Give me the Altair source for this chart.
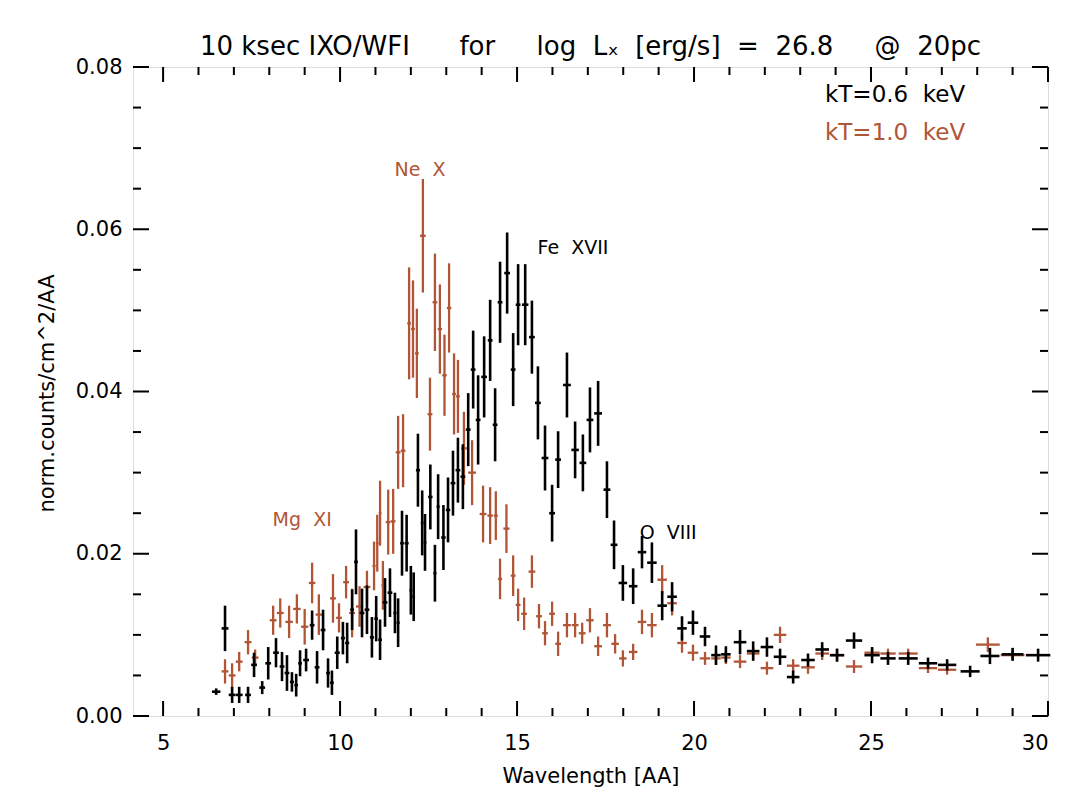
import altair as alt
import numpy as np
import pandas as pd

W, H = 915, 649
X_DOMAIN = [4.15, 30.0]
Y_DOMAIN = [0.0, 0.08]
BROWN = "#b05535"
FONT = "DejaVu Sans"
NB = "\u00a0"

# kT = 0.6 keV (black)
WL_06 = [6.50, 6.75, 6.95, 7.15, 7.40, 7.57, 7.80, 7.97, 8.19, 8.36,
         8.50, 8.64, 8.76, 8.87, 9.04, 9.21, 9.35, 9.52, 9.66, 9.77,
         9.92, 10.08, 10.20, 10.34, 10.45, 10.62, 10.76, 10.90, 11.02, 11.13,
         11.27, 11.41, 11.55, 11.64, 11.75, 11.88, 12.00, 12.08, 12.20, 12.32,
         12.40, 12.55, 12.68, 12.77, 12.92, 13.05, 13.19, 13.33, 13.47, 13.62,
         13.76, 13.90, 14.07, 14.24, 14.38, 14.52, 14.72, 14.89, 15.03, 15.23,
         15.42, 15.59, 15.79, 15.99, 16.16, 16.41, 16.64, 16.86, 17.06, 17.29,
         17.54, 17.74, 17.99, 18.28, 18.53, 18.81, 19.10, 19.38, 19.66, 19.97,
         20.31, 20.62, 20.90, 21.30, 21.67, 22.06, 22.43, 22.80, 23.22, 23.62,
         24.04, 24.52, 25.03, 25.48, 26.05, 26.61, 27.15, 27.80, 28.36, 29.00,
         29.72]
FLUX_06 = [0.0030, 0.0108, 0.0026, 0.0026, 0.0026, 0.0063, 0.0035, 0.0065, 0.0078, 0.0061,
           0.0053, 0.0042, 0.0038, 0.0065, 0.0069, 0.0112, 0.0060, 0.0106, 0.0053, 0.0041,
           0.0078, 0.0096, 0.0090, 0.0131, 0.0190, 0.0127, 0.0131, 0.0097, 0.0120, 0.0094,
           0.0140, 0.0152, 0.0127, 0.0115, 0.0213, 0.0213, 0.0155, 0.0147, 0.0303, 0.0238,
           0.0214, 0.0270, 0.0176, 0.0258, 0.0220, 0.0254, 0.0287, 0.0303, 0.0295, 0.0353,
           0.0427, 0.0365, 0.0418, 0.0463, 0.0359, 0.0510, 0.0546, 0.0427, 0.0507, 0.0507,
           0.0467, 0.0386, 0.0318, 0.0250, 0.0316, 0.0408, 0.0328, 0.0312, 0.0365, 0.0373,
           0.0279, 0.0211, 0.0164, 0.0160, 0.0202, 0.0189, 0.0136, 0.0147, 0.0108, 0.0115,
           0.0098, 0.0075, 0.0076, 0.0091, 0.0080, 0.0085, 0.0073, 0.0048, 0.0069, 0.0082,
           0.0075, 0.0093, 0.0075, 0.0071, 0.0071, 0.0065, 0.0063, 0.0055, 0.0074, 0.0076,
           0.0075]
ERR_06 = [0.0004, 0.0028, 0.0010, 0.0010, 0.0010, 0.0015, 0.0008, 0.0020, 0.0018, 0.0018,
          0.0022, 0.0012, 0.0014, 0.0016, 0.0014, 0.0018, 0.0020, 0.0025, 0.0018, 0.0015,
          0.0020, 0.0020, 0.0025, 0.0025, 0.0040, 0.0030, 0.0030, 0.0025, 0.0028, 0.0025,
          0.0030, 0.0030, 0.0025, 0.0030, 0.0040, 0.0035, 0.0030, 0.0030, 0.0045, 0.0040,
          0.0035, 0.0040, 0.0035, 0.0040, 0.0040, 0.0040, 0.0040, 0.0040, 0.0040, 0.0045,
          0.0048, 0.0055, 0.0050, 0.0050, 0.0045, 0.0050, 0.0050, 0.0045, 0.0050, 0.0050,
          0.0045, 0.0045, 0.0040, 0.0035, 0.0035, 0.0040, 0.0035, 0.0035, 0.0040, 0.0040,
          0.0035, 0.0030, 0.0022, 0.0022, 0.0020, 0.0025, 0.0018, 0.0018, 0.0015, 0.0015,
          0.0012, 0.0012, 0.0010, 0.0015, 0.0012, 0.0012, 0.0010, 0.0008, 0.0008, 0.0009,
          0.0008, 0.0010, 0.0010, 0.0008, 0.0008, 0.0007, 0.0007, 0.0007, 0.0010, 0.0008,
          0.0008]

# kT = 1.0 keV (brown)
WL_10 = [6.75, 6.95, 7.15, 7.40, 7.60, 8.11, 8.31, 8.56, 8.78, 9.00,
         9.21, 9.40, 9.80, 9.97, 10.17, 10.34, 10.55, 10.76, 10.96, 11.05,
         11.13, 11.21, 11.36, 11.50, 11.64, 11.78, 11.95, 12.06, 12.17, 12.34,
         12.54, 12.68, 12.82, 12.95, 13.08, 13.22, 13.33, 13.50, 13.73, 14.04,
         14.24, 14.40, 14.52, 14.70, 14.89, 15.03, 15.20, 15.42, 15.62, 15.79,
         15.99, 16.16, 16.41, 16.64, 16.84, 17.06, 17.29, 17.54, 17.77, 17.99,
         18.28, 18.53, 18.81, 19.10, 19.38, 19.66, 19.97, 20.31, 20.62, 20.90,
         21.30, 21.67, 22.06, 22.43, 22.80, 23.22, 23.62, 24.04, 24.52, 25.03,
         25.48, 26.05, 26.61, 27.15, 28.30, 29.00]
FLUX_10 = [0.0055, 0.0050, 0.0067, 0.0091, 0.0072, 0.0118, 0.0127, 0.0116, 0.0132, 0.0110,
           0.0164, 0.0125, 0.0145, 0.0121, 0.0165, 0.0127, 0.0135, 0.0159, 0.0185, 0.0213,
           0.0250, 0.0161, 0.0239, 0.0240, 0.0325, 0.0327, 0.0484, 0.0477, 0.0447, 0.0592,
           0.0372, 0.0510, 0.0477, 0.0420, 0.0503, 0.0397, 0.0394, 0.0330, 0.0300, 0.0249,
           0.0247, 0.0247, 0.0169, 0.0231, 0.0173, 0.0137, 0.0126, 0.0178, 0.0123, 0.0102,
           0.0126, 0.0089, 0.0112, 0.0112, 0.0102, 0.0118, 0.0086, 0.0112, 0.0089, 0.0071,
           0.0079, 0.0116, 0.0112, 0.0168, 0.0139, 0.0090, 0.0078, 0.0071, 0.0071, 0.0072,
           0.0067, 0.0077, 0.0059, 0.0100, 0.0062, 0.0060, 0.0077, 0.0075, 0.0061, 0.0078,
           0.0077, 0.0077, 0.0059, 0.0057, 0.0088, 0.0075]
ERR_10 = [0.0015, 0.0015, 0.0012, 0.0015, 0.0010, 0.0018, 0.0018, 0.0020, 0.0018, 0.0022,
          0.0025, 0.0025, 0.0030, 0.0018, 0.0020, 0.0030, 0.0025, 0.0020, 0.0030, 0.0035,
          0.0040, 0.0030, 0.0040, 0.0040, 0.0045, 0.0045, 0.0069, 0.0060, 0.0055, 0.0070,
          0.0045, 0.0060, 0.0055, 0.0050, 0.0055, 0.0050, 0.0045, 0.0045, 0.0040, 0.0035,
          0.0035, 0.0030, 0.0025, 0.0030, 0.0025, 0.0020, 0.0020, 0.0020, 0.0015, 0.0015,
          0.0015, 0.0015, 0.0015, 0.0015, 0.0013, 0.0015, 0.0012, 0.0015, 0.0012, 0.0010,
          0.0010, 0.0015, 0.0015, 0.0018, 0.0015, 0.0012, 0.0010, 0.0008, 0.0008, 0.0008,
          0.0008, 0.0008, 0.0008, 0.0010, 0.0008, 0.0008, 0.0008, 0.0008, 0.0008, 0.0006,
          0.0006, 0.0006, 0.0006, 0.0006, 0.0009, 0.0006]

X_MAJOR = [5, 10, 15, 20, 25, 30]
X_MINOR = [6, 7, 8, 9, 11, 12, 13, 14, 16, 17, 18, 19, 21, 22, 23, 24, 26, 27, 28, 29]
Y_MAJOR = [0.0, 0.02, 0.04, 0.06, 0.08]
Y_MINOR = [0.005, 0.01, 0.015, 0.025, 0.03, 0.035, 0.045, 0.05, 0.055, 0.065, 0.07, 0.075]

LINE_LABELS = ["Ne  X", "Fe  XVII", "Mg  XI", "O  VIII"]
LINE_X = [12.26, 16.58, 8.93, 19.27]
LINE_Y = [0.0673, 0.0577, 0.0242, 0.0226]
LINE_COLORS = [BROWN, "black", BROWN, "black"]

LEGEND_LABELS = ["kT=0.6  keV", "kT=1.0  keV"]
LEGEND_X = [23.70, 23.70]
LEGEND_Y = [0.0766, 0.0719]
LEGEND_COLORS = ["black", BROWN]

TITLE = "10 ksec IXO/WFI      for     log  Lₓ  [erg/s]  =  26.8     @  20pc"


def keep_spaces(s):
    return s.replace(" ", NB)


def spectrum(wl, flux, err):
    wl = np.asarray(wl, dtype=float)
    flux = np.asarray(flux, dtype=float)
    err = np.asarray(err, dtype=float)
    gaps = np.diff(wl)
    left = np.r_[gaps[0], gaps]
    right = np.r_[gaps, gaps[-1]]
    hw = 0.48 * np.minimum(left, right)
    return pd.DataFrame({"wl": wl, "flux": flux, "lo": flux - err, "hi": flux + err,
                         "xl": wl - hw, "xr": wl + hw})


xs = alt.Scale(domain=X_DOMAIN, nice=False, zero=False)
ys = alt.Scale(domain=Y_DOMAIN, nice=False, zero=False)

x_axis = alt.Axis(values=X_MAJOR, format="d", ticks=False, domain=False, grid=False,
                  labelFont=FONT, labelFontSize=21, labelPadding=16, labelColor="black",
                  title="Wavelength [AA]", titleFont=FONT, titleFontSize=21,
                  titleFontWeight="normal", titleColor="black",
                  titleY=60, titleBaseline="middle")
y_axis = alt.Axis(values=Y_MAJOR, format=".2f", ticks=False, domain=False, grid=False,
                  labelFont=FONT, labelFontSize=21, labelPadding=11, labelColor="black",
                  title="norm.counts/cm^2/AA", titleFont=FONT, titleFontSize=21,
                  titleFontWeight="normal", titleColor="black",
                  titleX=-86, titleY=326, titleAngle=-90,
                  titleAlign="center", titleBaseline="middle")


def X(field):
    return alt.X(field, type="quantitative", scale=xs, axis=x_axis)


def Y(field):
    return alt.Y(field, type="quantitative", scale=ys, axis=y_axis)


def bars(df, color, width):
    base = alt.Chart(df)
    vert = base.mark_rule(color=color, strokeWidth=width).encode(
        x=X("wl"), y=Y("lo"), y2="hi:Q")
    horiz = base.mark_rule(color=color, strokeWidth=width).encode(
        x=X("xl"), x2="xr:Q", y=Y("flux"))
    return [vert, horiz]


df06 = spectrum(WL_06, FLUX_06, ERR_06)
df10 = spectrum(WL_10, FLUX_10, ERR_10)

layers = []
layers += bars(df10, BROWN, 2.3)
layers += bars(df06, "black", 2.6)


def xticks(vals, length):
    d = pd.DataFrame({"t": vals})
    bottom = alt.Chart(d).mark_rule(color="black", strokeWidth=2).encode(
        x=X("t"), y=alt.value(H), y2=alt.value(H - length))
    top = alt.Chart(d).mark_rule(color="black", strokeWidth=2).encode(
        x=X("t"), y=alt.value(0), y2=alt.value(length))
    return [bottom, top]


def yticks(vals, length):
    d = pd.DataFrame({"t": vals})
    left = alt.Chart(d).mark_rule(color="black", strokeWidth=2).encode(
        y=Y("t"), x=alt.value(0), x2=alt.value(length))
    right = alt.Chart(d).mark_rule(color="black", strokeWidth=2).encode(
        y=Y("t"), x=alt.value(W), x2=alt.value(W - length))
    return [left, right]


layers += xticks(X_MAJOR, 15) + xticks(X_MINOR, 8)
layers += yticks(Y_MAJOR, 16) + yticks(Y_MINOR, 8)

lines_df = pd.DataFrame({"label": [keep_spaces(s) for s in LINE_LABELS],
                         "x": LINE_X, "y": LINE_Y, "c": LINE_COLORS})
layers.append(alt.Chart(lines_df).mark_text(font=FONT, fontSize=19, align="center",
                                             baseline="middle").encode(
    x=X("x"), y=Y("y"), text="label:N", color=alt.Color("c:N", scale=None)))

leg_df = pd.DataFrame({"label": [keep_spaces(s) for s in LEGEND_LABELS],
                       "x": LEGEND_X, "y": LEGEND_Y, "c": LEGEND_COLORS})
layers.append(alt.Chart(leg_df).mark_text(font=FONT, fontSize=23, align="left",
                                           baseline="middle").encode(
    x=X("x"), y=Y("y"), text="label:N", color=alt.Color("c:N", scale=None)))

chart = alt.layer(*layers).properties(
    width=W, height=H,
    autosize=alt.AutoSizeParams(type="none"),
    padding={"left": 125, "top": 59, "right": 28, "bottom": 85},
    title=alt.TitleParams(keep_spaces(TITLE), font=FONT, fontSize=26, fontWeight="normal",
                          color="black", anchor="middle", frame="group",
                          baseline="alphabetic", offset=11, dy=36),
).configure_view(stroke="black", strokeWidth=2.5, fill="white").configure(background="white")

chart.save("out.html", embed_options={"renderer": "svg", "actions": False})
